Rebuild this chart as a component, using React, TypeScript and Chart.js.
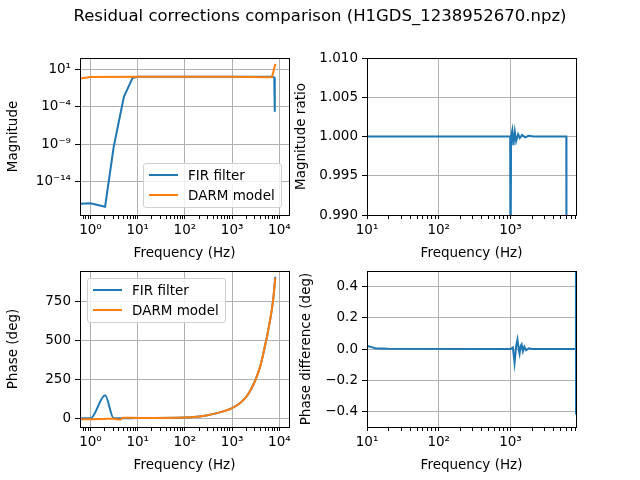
import React, { useEffect, useRef } from "react";
import { Chart, registerables } from "chart.js";
Chart.register(...registerables);

const BLUE = "#1f77b4";
const ORANGE = "#ff7f0e";
const FONT = "'DejaVu Sans', sans-serif";

// Top-left: magnitude
const firMagFreq = [0.6, 1, 2.04, 3.1, 5.1, 7.8, 10, 100, 1000, 5000, 7000, 7800, 8000];
const firMag = [1e-17, 1.2e-17, 4e-18, 4e-10, 2e-3, 0.7, 1, 1, 1, 1, 1, 0.8, 2e-5];
const darmMagFreq = [0.6, 1, 10, 100, 1000, 6000, 7000, 8192];
const darmMag = [0.6, 0.9, 1, 1, 1, 0.85, 0.9, 50];

// Top-right: magnitude ratio
const ratioFreq = [10, 990, 1000, 1020, 1060, 1100, 1150, 1200, 1280, 1350, 1450, 1600, 1800, 2100, 6000, 6030];
const ratioVal = [1, 1, 0.98, 1, 1.0008, 0.9989, 1.0006, 0.9994, 1.0003, 0.9998, 1.0002, 0.9999, 1.0001, 1, 1, 0.98];

// Bottom-left: phase
const firPhaseFreq = [0.6, 1, 2.04, 3.1, 4.3, 10, 100, 200, 300, 500, 700, 1000, 1500, 2000, 2500, 3000, 3500, 4000, 4500, 5000, 5500, 6000, 6500, 7000, 7500, 8192];
const firPhase = [0, 0, 148, 0, 0, 2, 5, 12, 20, 35, 48, 66, 100, 139, 185, 235, 287, 343, 405, 471, 528, 589, 648, 709, 780, 910];
const darmPhaseFreq = [0.6, 1, 2, 3.1, 4.3, 4.8, 10, 100, 200, 300, 500, 700, 1000, 1500, 2000, 2500, 3000, 3500, 4000, 4500, 5000, 5500, 6000, 6500, 7000, 7500, 8192];
const darmPhase = [-6, -6, -4, -3, -8, 4, 2, 5, 12, 20, 35, 48, 66, 100, 139, 185, 235, 287, 343, 405, 471, 528, 589, 648, 709, 780, 904];

// Bottom-right: phase difference
const diffFreq = [10, 11, 13, 20, 1000, 1080, 1140, 1200, 1250, 1300, 1340, 1390, 1430, 1490, 1560, 1650, 1800, 2000, 8100, 8170, 8192];
const diffVal = [0.02, 0.015, 0.005, 0.001, 0, 0.01, -0.09, 0.02, 0.06, 0, -0.03, 0.02, 0.03, -0.015, 0.015, -0.008, 0.005, 0, 0, 0.6, -0.42];

const SUP: Record<string, string> = { "0": "⁰", "1": "¹", "2": "²", "3": "³", "4": "⁴", "5": "⁵", "6": "⁶", "7": "⁷", "8": "⁸", "9": "⁹", "-": "⁻" };
const pow10 = (e: number) => "10" + String(e).split("").map((c) => SUP[c]).join("");

function logTicks(lo: number, hi: number) {
  const t: { value: number; major: boolean }[] = [];
  for (let e = lo; e <= hi; e++) {
    for (let m = 1; m < 10; m++) t.push({ value: m * Math.pow(10, e), major: m === 1 });
  }
  return t;
}

const pts = (xs: number[], ys: number[]) => xs.map((x, i) => ({ x, y: ys[i] }));

const borderPlugin = {
  id: "frame",
  afterDraw(chart: any) {
    const { ctx, chartArea: a } = chart;
    ctx.save();
    ctx.strokeStyle = "#000";
    ctx.lineWidth = 1;
    ctx.strokeRect(Math.round(a.left) + 0.5, Math.round(a.top) + 0.5, Math.round(a.right - a.left), Math.round(a.bottom - a.top));
    ctx.restore();
  },
};

type Cfg = {
  left: number; top: number; right: number; bottom: number; yw: number;
  datasets: any[]; xmin: number; xmax: number; xlo: number; xhi: number;
  ylog?: boolean; ymin: number; ymax: number; yticks: number[]; yfmt: (v: number) => string; ytitle: string;
};

function makeChart(canvas: HTMLCanvasElement, c: Cfg) {
  const xt = logTicks(c.xlo, c.xhi).filter((t) => t.value >= c.xmin * 0.999 && t.value <= c.xmax * 1.001);
  const majorSet = new Set(xt.filter((t) => t.major).map((t) => t.value));
  const font = { family: FONT, size: 13.5 };
  return new Chart(canvas, {
    type: "line",
    data: { datasets: c.datasets },
    plugins: [borderPlugin],
    options: {
      animation: false,
      responsive: false,
      devicePixelRatio: 1,
      events: [],
      layout: { padding: { left: c.left - c.yw, top: c.top, right: 640 - c.right, bottom: 480 - c.bottom - 51 } },
      plugins: { legend: { display: false }, tooltip: { enabled: false } },
      elements: { point: { radius: 0 }, line: { borderWidth: 2, tension: 0 } },
      scales: {
        x: {
          type: "logarithmic",
          min: c.xmin,
          max: c.xmax,
          afterBuildTicks: (s: any) => { s.ticks = xt.map((t) => ({ value: t.value, major: t.major })); },
          afterFit: (s: any) => { s.height = 51; },
          ticks: {
            autoSkip: false, maxRotation: 0, padding: 3, color: "#000", font,
            callback: (v: any) => (majorSet.has(v) ? pow10(Math.round(Math.log10(v))) : ""),
          },
          grid: {
            color: (ctx: any) => (ctx.tick && majorSet.has(ctx.tick.value) ? "#b0b0b0" : "rgba(0,0,0,0)"),
            tickColor: "#000", tickLength: 4, lineWidth: 1,
          },
          border: { display: false },
          title: { display: true, text: "Frequency (Hz)", color: "#000", font, padding: { top: 2, bottom: 4 } },
        },
        y: {
          type: c.ylog ? "logarithmic" : "linear",
          min: c.ymin,
          max: c.ymax,
          afterBuildTicks: (s: any) => { s.ticks = c.yticks.map((v) => ({ value: v })); },
          afterFit: (s: any) => { s.width = c.yw; },
          ticks: { autoSkip: false, padding: 4, color: "#000", font, callback: (v: any) => c.yfmt(v) },
          grid: { color: "#b0b0b0", tickColor: "#000", tickLength: 5, lineWidth: 1 },
          border: { display: false },
          title: { display: true, text: c.ytitle, color: "#000", font, padding: { top: 0, bottom: 4 } },
        },
      },
    } as any,
  });
}

const minus = (s: string) => s.replace("-", "\u2212");

function Legend({ x, y }: { x: number; y: number }) {
  const row = (color: string, label: string, top: number) => (
    <div style={{ position: "absolute", left: 0, top, height: 20, display: "flex", alignItems: "center" }}>
      <div style={{ width: 29, height: 2, background: color, marginLeft: 5, marginRight: 10 }} />
      <span style={{ font: `13.5px ${FONT}`, color: "#000", whiteSpace: "nowrap" }}>{label}</span>
    </div>
  );
  return (
    <div style={{ position: "absolute", left: x, top: y, width: 139, height: 45, border: "1px solid #d0d0d0", borderRadius: 3, background: "rgba(255,255,255,0.8)", boxSizing: "border-box" }}>
      {row(BLUE, "FIR filter", 1)}
      {row(ORANGE, "DARM model", 21)}
    </div>
  );
}

export default function App() {
  const r1 = useRef<HTMLCanvasElement>(null);
  const r2 = useRef<HTMLCanvasElement>(null);
  const r3 = useRef<HTMLCanvasElement>(null);
  const r4 = useRef<HTMLCanvasElement>(null);
  useEffect(() => {
    const line = (data: any, color: string, smooth = false) => ({
      data, borderColor: color, backgroundColor: color, fill: false,
      cubicInterpolationMode: smooth ? "monotone" : "default",
    });
    const charts = [
      makeChart(r1.current!, {
        left: 80, top: 58, right: 289, bottom: 215, yw: 75,
        datasets: [line(pts(darmMagFreq, darmMag), ORANGE), line(pts(firMagFreq, firMag), BLUE)],
        xmin: 0.637, xmax: 16000, xlo: -1, xhi: 4, ylog: true, ymin: Math.pow(10, -18.5), ymax: Math.pow(10, 2.51),
        yticks: [1e-14, 1e-9, 1e-4, 10], yfmt: (v) => pow10(Math.round(Math.log10(v))), ytitle: "Magnitude",
      }),
      makeChart(r2.current!, {
        left: 367, top: 58, right: 576, bottom: 215, yw: 74,
        datasets: [line(pts(ratioFreq, ratioVal), BLUE)],
        xmin: 10, xmax: 8192, xlo: 1, xhi: 3, ymin: 0.99, ymax: 1.01,
        yticks: [0.99, 0.995, 1.0, 1.005, 1.01], yfmt: (v) => v.toFixed(3), ytitle: "Magnitude ratio",
      }),
      makeChart(r3.current!, {
        left: 80, top: 271, right: 289, bottom: 427, yw: 75,
        datasets: [line(pts(darmPhaseFreq, darmPhase), ORANGE, true), line(pts(firPhaseFreq, firPhase), BLUE, true)],
        xmin: 0.637, xmax: 16000, xlo: -1, xhi: 4, ymin: -56, ymax: 947,
        yticks: [0, 250, 500, 750], yfmt: (v) => String(Math.round(v)), ytitle: "Phase (deg)",
      }),
      makeChart(r4.current!, {
        left: 367, top: 271, right: 576, bottom: 427, yw: 69,
        datasets: [line(pts(diffFreq, diffVal), BLUE)],
        xmin: 10, xmax: 8192, xlo: 1, xhi: 3, ymin: -0.5, ymax: 0.5,
        yticks: [-0.4, -0.2, 0, 0.2, 0.4], yfmt: (v) => minus(v.toFixed(1)), ytitle: "Phase difference (deg)",
      }),
    ];
    return () => charts.forEach((c) => c.destroy());
  }, []);
  const cs: React.CSSProperties = { position: "absolute", left: 0, top: 0, width: 640, height: 480 };
  return (
    <div style={{ position: "fixed", left: 0, top: 0, width: 640, height: 480, background: "#fff", overflow: "hidden" }}>
      <canvas ref={r1} width={640} height={480} style={cs} />
      <canvas ref={r2} width={640} height={480} style={cs} />
      <canvas ref={r3} width={640} height={480} style={cs} />
      <canvas ref={r4} width={640} height={480} style={cs} />
      <div style={{ position: "absolute", left: 0, top: 6, width: 640, textAlign: "center", font: `16.5px ${FONT}`, color: "#000" }}>
        Residual corrections comparison (H1GDS_1238952670.npz)
      </div>
      <Legend x={143} y={163} />
      <Legend x={87} y={278} />
    </div>
  );
}
